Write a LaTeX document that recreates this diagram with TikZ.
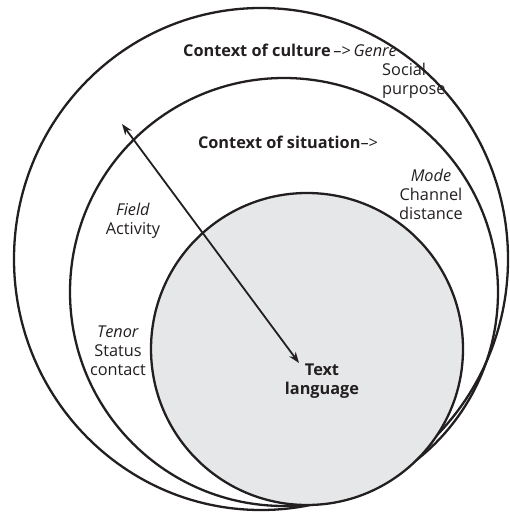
\documentclass[tikz,border=0pt]{standalone}
\usepackage{fontspec}
\setmainfont{Open Sans}
\usetikzlibrary{arrows.meta}
\definecolor{textgray}{RGB}{35,31,32}
\definecolor{fillgray}{RGB}{230,231,232}
\tikzset{
  ring/.style={draw=textgray, line width=2.3pt},
  lbl/.style={text=textgray, font=\fontsize{16.3}{18.8}\selectfont, align=center, inner sep=0pt},
  lblb/.style={lbl, font=\fontsize{16.3}{18.8}\selectfont\bfseries},
  link/.style={draw=textgray, line width=1.8pt, {Stealth[length=11pt,width=8pt]}-{Stealth[length=11pt,width=8pt]}}
}
\begin{document}
\begin{tikzpicture}[x=1pt,y=-1pt]
\useasboundingbox (0,0) rectangle (509,513);
\draw[ring] (261,259) ellipse [x radius=247, y radius=251];
\draw[ring] (284,292) circle [radius=214];
\draw[ring, fill=fillgray] (307,349) circle [radius=156];
\coordinate (top) at (122,124);
\coordinate (bot) at (299,363);
\draw[link] (top) -- (bot);
\node[lbl, anchor=base] (cult) at (290,57) {\textbf{Context of culture}\,–>\,\textit{Genre}};
\node[lbl, align=left, anchor=north west] (soc) at (382,63) {Social\\purpose};
\node[lblb, anchor=base] (sit) at (288,149) {Context of situation\mdseries–>};
\node[lbl, anchor=north] (mode) at (431,169) {\textit{Mode}\\Channel\\distance};
\node[lbl, anchor=north] (field) at (133,203) {\textit{Field}\\Activity};
\node[lbl, anchor=north] (tenor) at (118,326) {\textit{Tenor}\\Status\\contact};
\node[lblb, anchor=north] (text) at (322,364) {Text\\language};
\end{tikzpicture}
\end{document}
